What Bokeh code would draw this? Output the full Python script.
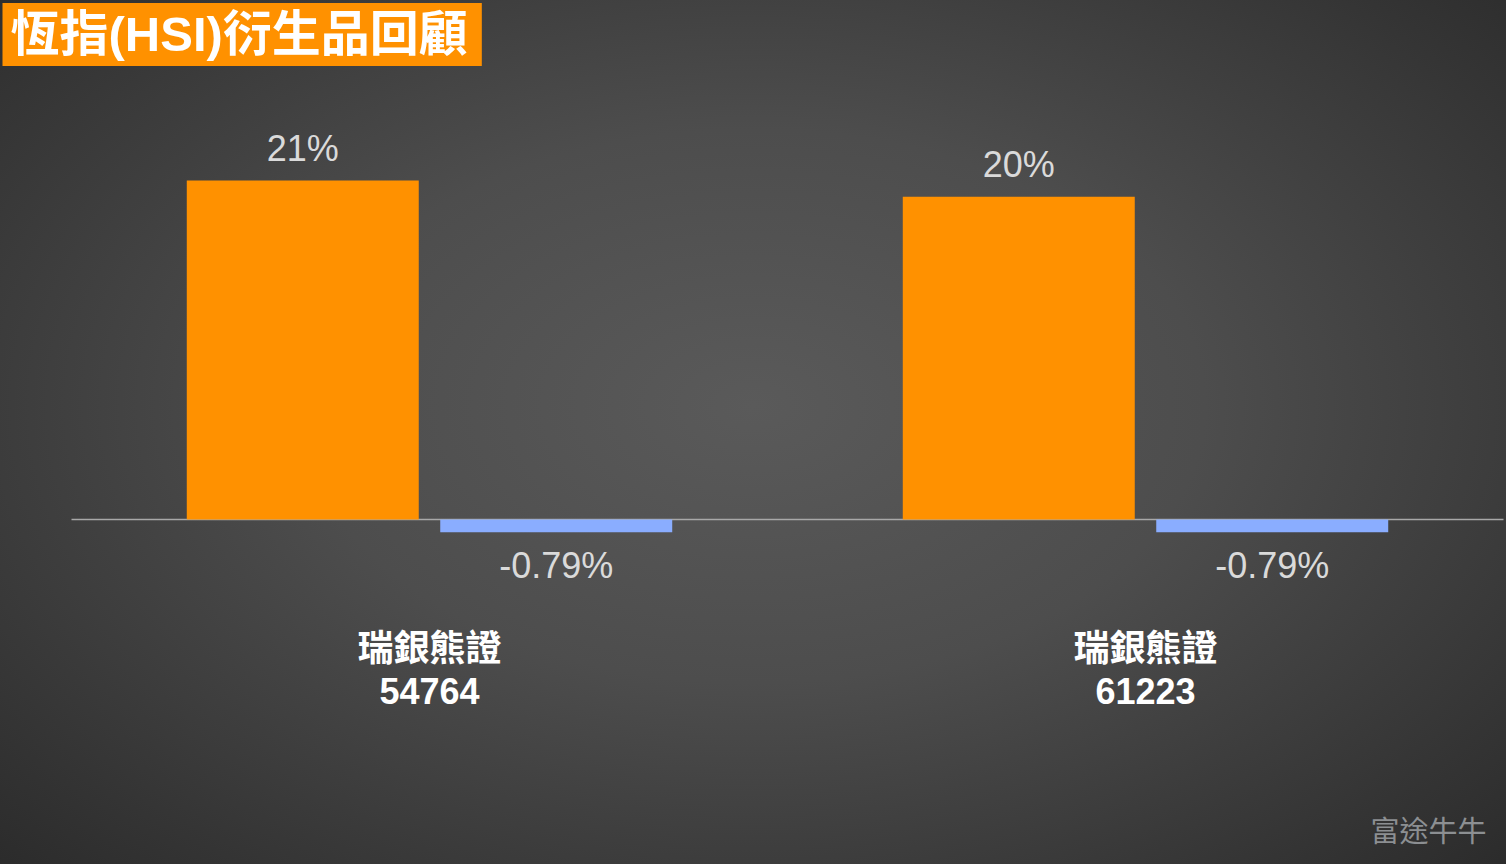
from bokeh.plotting import figure
from bokeh.models import ColumnDataSource, Range1d, Label
from bokeh.core.properties import value
from bokeh.transform import dodge
from bokeh.embed import file_html
from bokeh.resources import INLINE

# ---- data ----
groups = [0, 1]
names = ["瑞銀熊證", "瑞銀熊證"]
codes = ["54764", "61223"]
series_a = [21, 20]          # orange
series_b = [-0.79, -0.79]    # blue
labels_a = ["21%", "20%"]
labels_b = ["-0.79%", "-0.79%"]

ORANGE = "#FF9100"
BLUE = "#8AADFF"
LABEL_C = "#DADADA"
FONT = "Liberation Sans, Noto Sans CJK TC, sans-serif"
CJK = "Noto Sans CJK TC, Liberation Sans, sans-serif"

W, H = 1506, 864
BASE_Y = 519      # screen row of the zero line
PX_PER_UNIT = 16.14
X0, PX_PER_GROUP = 429, 716

p = figure(width=W, height=H, output_backend="svg", toolbar_location=None,
           x_range=Range1d(-X0 / PX_PER_GROUP, (W - X0) / PX_PER_GROUP),
           y_range=Range1d(-(H - BASE_Y) / PX_PER_UNIT, BASE_Y / PX_PER_UNIT),
           min_border=0, min_border_left=0, min_border_right=0,
           min_border_top=0, min_border_bottom=0)
p.background_fill_alpha = 0
p.border_fill_alpha = 0
p.outline_line_color = None
p.axis.visible = False
p.grid.visible = False

off = 0.177
bw = 0.324
src = ColumnDataSource(dict(
    g=groups, a=series_a, b=series_b, la=labels_a, lb=labels_b,
    names=names, codes=codes,
    oa=[-32 if v > 0 else 32 for v in series_a],
    ob=[-33 if v > 0 else 33 for v in series_b],
))

# baseline
p.segment(x0=-0.5, x1=1.5, y0=0, y1=0, line_color="#A8A8A8", line_width=1.5)

p.vbar(x=dodge("g", -off), top="a", bottom=0, width=bw, source=src,
       fill_color=ORANGE, line_color=None)
p.vbar(x=dodge("g", off), top="b", bottom=0, width=bw, source=src,
       fill_color=BLUE, line_color=None)

p.text(x=dodge("g", -off), y="a", text="la", y_offset="oa", source=src,
       text_align="center", text_baseline="middle", text_color=LABEL_C,
       text_font=value(FONT), text_font_size="36px")
p.text(x=dodge("g", off), y="b", text="lb", y_offset="ob", source=src,
       text_align="center", text_baseline="middle", text_color=LABEL_C,
       text_font=value(FONT), text_font_size="36px")

# category labels
p.text(x="g", y=0, text="names", y_offset=125, source=src,
       text_align="center", text_baseline="middle", text_color="#FFFFFF",
       text_font=value(CJK), text_font_style="bold", text_font_size="36px")
p.text(x="g", y=0, text="codes", y_offset=171, source=src,
       text_align="center", text_baseline="middle", text_color="#FFFFFF",
       text_font=value(FONT), text_font_style="bold", text_font_size="36px")

# title box
title = Label(x=2, y=H - 34, x_units="screen", y_units="screen",
              text="恆指(HSI)衍生品回顧", text_align="left", text_baseline="middle",
              text_color="#FFFFFF", text_font=FONT, text_font_style="bold",
              text_font_size="49px", background_fill_color="#FF9100",
              background_fill_alpha=1.0,
              padding=dict(left=8, right=14, top=4, bottom=5))
p.add_layout(title)

# watermark
wm = Label(x=1486, y=H - 828, x_units="screen", y_units="screen",
           text="富途牛牛", text_align="right", text_baseline="middle",
           text_color="#8C8F92", text_font=CJK, text_font_style="normal",
           text_font_size="29px")
p.add_layout(wm)

template = """
{% block postamble %}
<style>
html { min-height: 100%; background: radial-gradient(ellipse 75% 80% at 50% 47%, #5a5a5a 0%, #4d4d4d 40%, #343434 80%, #282828 100%); }
body { background: transparent; }
</style>
{% endblock %}
"""

open("out.html", "w").write(file_html(p, INLINE, template=template))
